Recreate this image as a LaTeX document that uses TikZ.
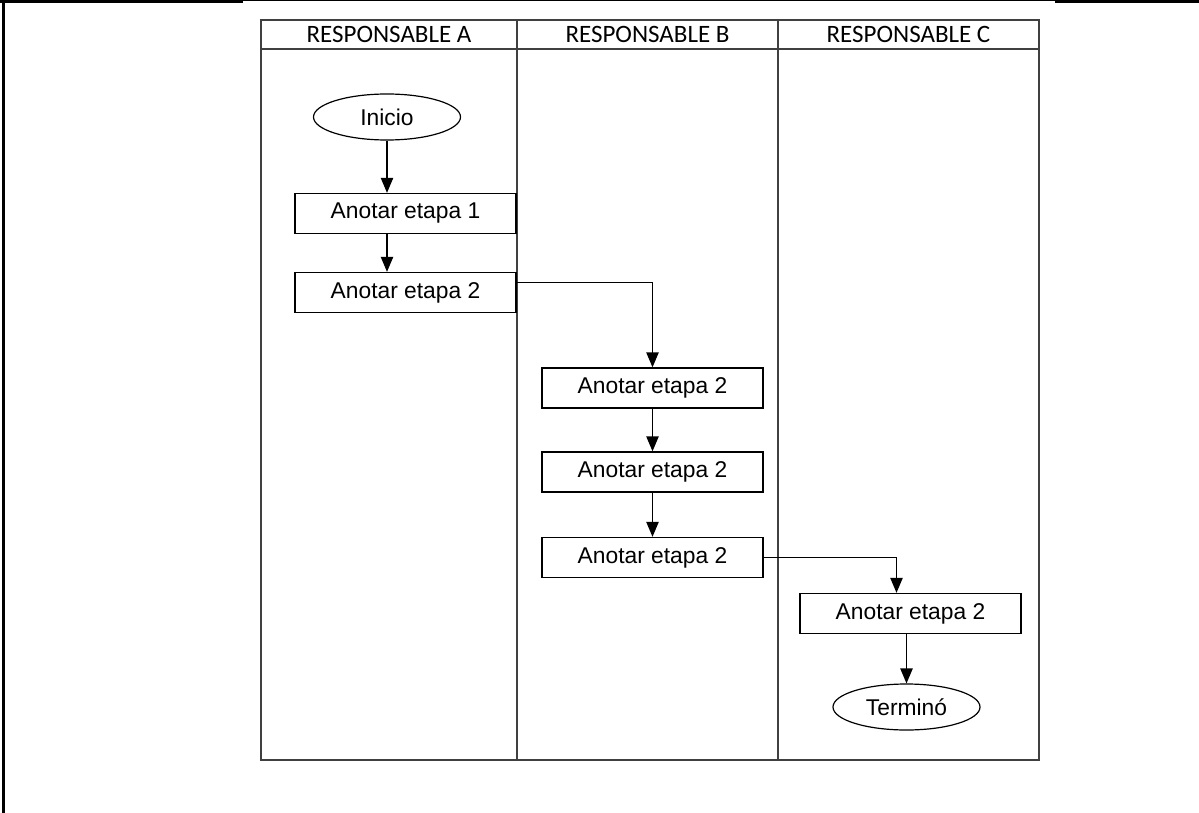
\documentclass[tikz,border=0pt]{standalone}
\usepackage{fontspec}
\setmainfont{Liberation Sans}
\newfontfamily\calibri{Carlito}
\usetikzlibrary{arrows,positioning,shapes.geometric}

\tikzset{
  etapa/.style={draw, rectangle, line width=0.7pt, minimum width=110.5pt, minimum height=20pt, inner sep=0pt, font=\fontsize{11.4}{13}\selectfont},
  extremo/.style={draw, ellipse, line width=0.6pt, minimum width=73.5pt, minimum height=23pt, inner sep=0pt, font=\fontsize{11.4}{13}\selectfont},
  cabecera/.style={inner sep=0pt, font=\calibri\fontsize{12.5}{14}\selectfont},
  carril/.style={draw=black!75, line width=1pt},
  flecha/.style={-triangle 45, line width=0.7pt},
}

\begin{document}
\begin{tikzpicture}[x=0.5pt, y=-0.5pt]
\useasboundingbox (0,0) rectangle (1199,813);

% outer frame
\draw[line width=1.5pt] (0,1.5) -- (243,1.5);
\draw[line width=0.6pt] (243,0.6) -- (1055,0.6);
\draw[line width=1.5pt] (1055,1.5) -- (1199,1.5);
\draw[line width=1.5pt] (3,0) -- (3,813);

% lanes
\draw[carril] (261,20) rectangle (1039,760);
\draw[carril] (261,49) -- (1039,49);
\draw[carril] (517,20) -- (517,760);
\draw[carril] (778,20) -- (778,760);

\node[cabecera] (hA) at (389,34.5) {RESPONSABLE A};
\node[cabecera] (hB) at (647.5,34.5) {RESPONSABLE B};
\node[cabecera] (hC) at (908.5,34.5) {RESPONSABLE C};

% steps
\node[extremo] (ini) at (387,117) {Inicio};
\node[etapa] (b1) at (405.5,213.5) {Anotar etapa 1};
\node[etapa] (b2) at (405.5,292.5) {Anotar etapa 2};
\node[etapa] (b3) at (652.5,388) {Anotar etapa 2};
\node[etapa] (b4) at (652.5,472) {Anotar etapa 2};
\node[etapa] (b5) at (652.5,557.5) {Anotar etapa 2};
\node[etapa] (b6) at (910.5,613.5) {Anotar etapa 2};
\node[extremo] (fin) at (906.5,707) {Terminó};

\draw[flecha] (ini) -- (ini |- b1.north);
\draw[flecha] (b1.south -| ini) -- (b2.north -| ini);
\draw[flecha] ([yshift=5pt]b2.east) -| (b3.north);
\draw[flecha] (b3) -- (b4);
\draw[flecha] (b4) -- (b5);
\draw[flecha] (b5.east) -| ([xshift=-7pt]b6.north);
\draw[flecha] (b6.south -| fin) -- (fin);
\end{tikzpicture}
\end{document}
